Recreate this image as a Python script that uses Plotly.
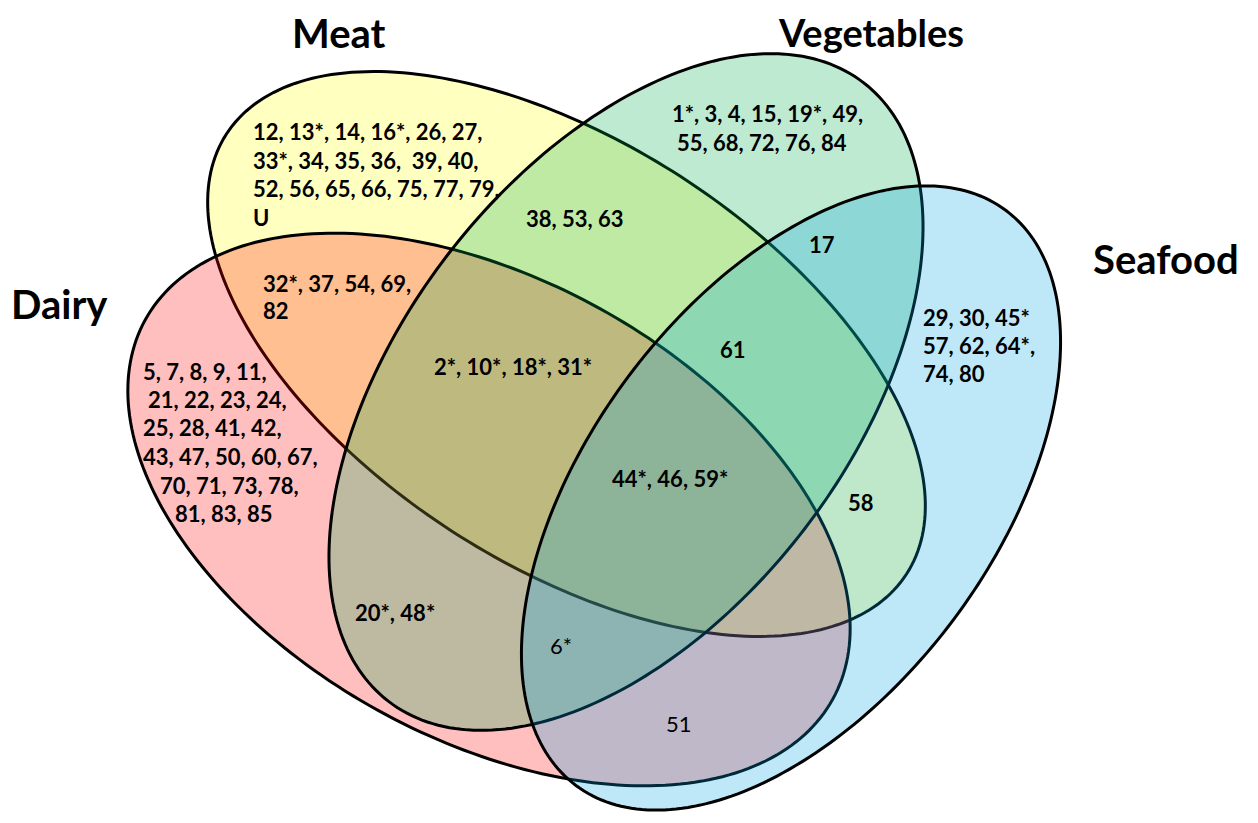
import numpy as np
import plotly.graph_objects as go

# ---------------- data ----------------
set_names = ["Meat", "Dairy", "Vegetables", "Seafood"]

meat_only = ["12, 13*, 14, 16*, 26, 27,", "33*, 34, 35, 36, \u00a039, 40,",
             "52, 56, 65, 66, 75, 77, 79,", "U"]
veg_only = ["1*, 3, 4, 15, 19*, 49,", "55, 68, 72, 76, 84"]
seafood_only = ["29, 30, 45*", "57, 62, 64*,", "74, 80"]
dairy_only = ["5, 7, 8, 9, 11,", "21, 22, 23, 24,", "25, 28, 41, 42,",
              "43, 47, 50, 60, 67,", "70, 71, 73, 78,", "81, 83, 85"]
meat_dairy = ["32*, 37, 54, 69,", "82"]
meat_veg = ["38, 53, 63"]
veg_seafood = ["17"]
meat_veg_dairy = ["2*, 10*, 18*, 31*"]
meat_veg_seafood = ["61"]
all_four = ["44*, 46, 59*"]
meat_seafood = ["58"]
dairy_veg = ["20*, 48*"]
dairy_veg_seafood = ["6*"]
dairy_seafood = ["51"]

# ---------------- geometry / style ----------------
# ellipse: centre x, centre y, semi-major, semi-minor, tilt (deg, screen coords)
ellipse_geom = {
    "Meat":       (566.5, 354.0, 405.0, 211.0, 32.9),
    "Dairy":      (489.0, 509.5, 392.6, 229.5, 28.9),
    "Vegetables": (626.0, 392.0, 390.0, 225.0, -52.5),
    "Seafood":    (791.0, 498.0, 359.0, 203.0, -53.2),
}
ellipse_fill = {
    "Meat": "rgba(255,255,0,0.247)",
    "Dairy": "rgba(255,0,0,0.25)",
    "Vegetables": "rgba(0,172,78,0.255)",
    "Seafood": "rgba(0,165,227,0.255)",
}
# title anchor position and vertical anchor
title_pos = {"Meat": (339, 33, "middle"), "Dairy": (59, 304, "middle"),
             "Vegetables": (871, 8, "top"), "Seafood": (1166, 259, "middle")}
title_size = {"Meat": 40, "Dairy": 40, "Vegetables": 38, "Seafood": 40}

FONT = "Lato"
SIZE = 22

# (lines, x list, y list, xanchor, weight)
region_layout = [
    (meat_only, [251] * 4, [131, 160, 188, 217], "left", "bold"),
    (veg_only, [670, 675], [113, 142], "left", "bold"),
    (seafood_only, [921] * 3, [317, 345, 373], "left", "bold"),
    (dairy_only, [205, 217, 212, 230, 229, 224], [371, 399, 427, 456, 485, 513], "center", "bold"),
    (meat_dairy, [261, 261], [283, 310], "left", "bold"),
    (meat_veg, [575], [218], "center", "bold"),
    (veg_seafood, [822], [244], "center", "bold"),
    (meat_veg_dairy, [513], [366], "center", "bold"),
    (meat_veg_seafood, [733], [349], "center", "bold"),
    (all_four, [670], [478], "center", "bold"),
    (meat_seafood, [861], [502], "center", "bold"),
    (dairy_veg, [395], [612], "center", "bold"),
    (dairy_veg_seafood, [561], [645], "center", "normal"),
    (dairy_seafood, [679], [723], "center", "normal"),
]


def ellipse_path(cx, cy, a, b, deg, n=260):
    t = np.linspace(0, 2 * np.pi, n, endpoint=False)
    th = np.deg2rad(deg)
    x = cx + a * np.cos(t) * np.cos(th) - b * np.sin(t) * np.sin(th)
    y = cy + a * np.cos(t) * np.sin(th) + b * np.sin(t) * np.cos(th)
    return "M " + " L ".join(f"{xi:.2f},{yi:.2f}" for xi, yi in zip(x, y)) + " Z"


fig = go.Figure()
shapes = []
for name in set_names:
    shapes.append(dict(type="path", xref="x", yref="y", path=ellipse_path(*ellipse_geom[name]),
                       fillcolor=ellipse_fill[name], line=dict(color="black", width=3), layer="above"))

annotations = []
for name in set_names:
    x, y, ya = title_pos[name]
    annotations.append(dict(x=x, y=y, xref="x", yref="y", text=name, showarrow=False,
                            xanchor="center", yanchor=ya, borderpad=0,
                            font=dict(family=FONT, size=title_size[name], color="black", weight="bold")))
for lines, xs, ys, anchor, weight in region_layout:
    for line, x, y in zip(lines, xs, ys):
        annotations.append(dict(x=x, y=y, xref="x", yref="y", text=line, showarrow=False,
                                xanchor=anchor, yanchor="middle",
                                font=dict(family=FONT, size=SIZE, color="black", weight=weight)))

fig.update_layout(
    width=1242, height=807,
    margin=dict(l=0, r=0, t=0, b=0),
    paper_bgcolor="white", plot_bgcolor="white",
    xaxis=dict(range=[8, 1250], visible=False, fixedrange=True),
    yaxis=dict(range=[815, 8], visible=False, fixedrange=True),
    shapes=shapes, annotations=annotations, showlegend=False,
)

fig.write_html("out.html")
